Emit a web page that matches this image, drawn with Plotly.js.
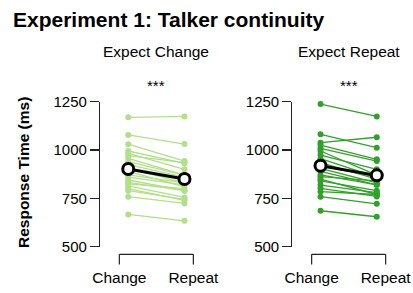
<!DOCTYPE html>
<html>
<head>
<meta charset="utf-8">
<script src="https://cdn.plot.ly/plotly-3.0.1.min.js"></script>
<style>html,body{margin:0;padding:0;background:#fff;}#chart{width:413px;height:293px;}</style>
</head>
<body>
<div id="chart"></div>
<script>
// ---- data ----
const conditions = ["Change", "Repeat"];
const panelTitles = ["Expect Change", "Expect Repeat"];
const sigLabels = ["***", "***"];
const yTicks = [500, 750, 1000, 1250];

// Expect Change panel: per-participant RT (ms)
const expChange_change = [1169, 1078, 1030, 995, 983, 971, 957, 940, 925, 905, 890, 871, 860, 845, 833, 825, 815, 800, 790, 759, 667];
const expChange_repeat = [1174, 1031, 943, 931, 900, 935, 870, 870, 860, 830, 810, 830, 820, 790, 790, 800, 755, 740, 745, 724, 634];
const expChange_mean = [902, 850];

// Expect Repeat panel: per-participant RT (ms)
const expRepeat_change = [1238, 1081, 1038, 1026, 1009, 995, 974, 955, 935, 920, 905, 890, 871, 862, 850, 840, 819, 802, 785, 759, 686];
const expRepeat_repeat = [1174, 1012, 1066, 952, 943, 870, 900, 860, 850, 860, 830, 820, 820, 840, 770, 790, 780, 760, 770, 722, 655];
const expRepeat_mean = [919, 869];

// ---- styling ----
const FONT = "Liberation Sans, Arial, Helvetica, sans-serif";
const colors = ["#b2df8a", "#33a02c"];
const nudge = 0.12;
const xPos = [1, 2];
const xNudged = [xPos[0] + nudge, xPos[1] - nudge];

function pairedTrace(a, b, color, xa, ya) {
  const x = [], y = [];
  for (let i = 0; i < a.length; i++) {
    x.push(xNudged[0], xNudged[1], null);
    y.push(a[i], b[i], null);
  }
  return {x, y, xaxis: xa, yaxis: ya, type: "scatter", mode: "lines+markers",
    line: {color, width: 1.3}, marker: {color, size: 6}, hoverinfo: "skip",
    showlegend: false, cliponaxis: false};
}
function meanTrace(m, xa, ya) {
  return {x: xNudged, y: m, xaxis: xa, yaxis: ya, type: "scatter", mode: "lines+markers",
    line: {color: "#000", width: 3}, marker: {color: "#fff", size: 11, line: {color: "#000", width: 3}},
    showlegend: false, cliponaxis: false};
}

const data = [
  pairedTrace(expChange_change, expChange_repeat, colors[0], "x", "y"),
  meanTrace(expChange_mean, "x", "y"),
  pairedTrace(expRepeat_change, expRepeat_repeat, colors[1], "x2", "y2"),
  meanTrace(expRepeat_mean, "x2", "y2")
];

const W = 413, H = 293;
const xRange = [0.74, 2.26];
const yDomain = [1 - 246.7 / H, 1 - 101.7 / H];

function xAxis(domain) {
  return {domain, range: xRange, showline: false, showgrid: false, zeroline: false,
    ticks: "", tickvals: xPos, ticktext: conditions, ticklabelstandoff: 20,
    tickfont: {family: FONT, size: 15.5, color: "#000"}, fixedrange: true};
}
function yAxis(anchor) {
  return {domain: yDomain, range: [500, 1250], anchor, showline: true, linecolor: "#222", linewidth: 1.2,
    ticks: "outside", ticklen: 9, tickwidth: 1.2, tickcolor: "#222", tickvals: yTicks,
    showgrid: false, zeroline: false, tickfont: {family: FONT, size: 15, color: "#000"}, fixedrange: true};
}

const brTop = 1 - 254.3 / H, brBot = 1 - 264.5 / H;
function bracket(xref) {
  const base = {type: "line", xref, yref: "paper", line: {color: "#222", width: 1.2}};
  return [
    Object.assign({}, base, {x0: xPos[0], x1: xPos[1], y0: brTop, y1: brTop}),
    Object.assign({}, base, {x0: xPos[0], x1: xPos[0], y0: brTop, y1: brBot}),
    Object.assign({}, base, {x0: xPos[1], x1: xPos[1], y0: brTop, y1: brBot})
  ];
}

const annotations = [];
[["x", 0], ["x2", 1]].forEach(([xr, i]) => {
  annotations.push({xref: xr, yref: "paper", x: 1.5, y: 1 - 51 / H, text: panelTitles[i], showarrow: false,
    xanchor: "center", yanchor: "middle", font: {family: FONT, size: 15.5, color: "#000"}});
  annotations.push({xref: xr, yref: "paper", x: 1.5, y: 1 - 86 / H, text: sigLabels[i], showarrow: false,
    xanchor: "center", yanchor: "middle", font: {family: FONT, size: 15, color: "#000"}});
});
annotations.push({xref: "paper", yref: "paper", x: 23 / W, y: 1 - 173 / H, text: "<b>Response Time (ms)</b>",
  textangle: -90, showarrow: false, xanchor: "center", yanchor: "middle",
  font: {family: FONT, size: 15.5, color: "#000"}});

const layout = {
  width: W, height: H, margin: {l: 0, r: 0, t: 0, b: 0},
  paper_bgcolor: "#fff", plot_bgcolor: "#fff",
  title: {text: "<b>Experiment 1: Talker continuity</b>", font: {family: FONT, size: 21, color: "#000"},
    x: 13 / W, xanchor: "left", xref: "container", y: 1 - 19.5 / H, yanchor: "middle", yref: "container"},
  xaxis: xAxis([100.1 / W, 212.6 / W]),
  yaxis: yAxis("x"),
  xaxis2: xAxis([292.4 / W, 404.9 / W]),
  yaxis2: yAxis("x2"),
  shapes: bracket("x").concat(bracket("x2")),
  annotations,
  showlegend: false
};

Plotly.newPlot("chart", data, layout, {displayModeBar: false, staticPlot: true});
</script>
</body>
</html>
